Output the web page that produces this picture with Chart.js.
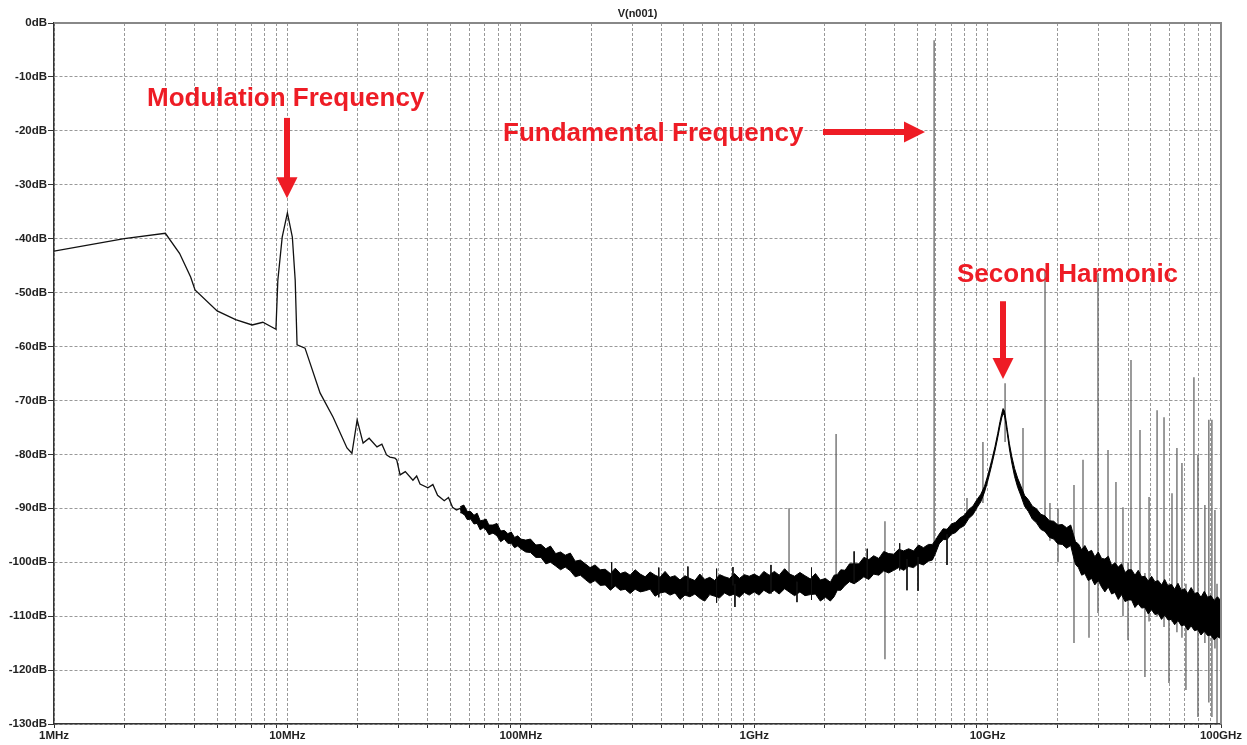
<!DOCTYPE html>
<html>
<head>
<meta charset="utf-8">
<script src="https://cdn.jsdelivr.net/npm/chart.js@4.4.0/dist/chart.umd.min.js"></script>
<style>
html, body { margin: 0; padding: 0; background: #fff; }
#wrap { width: 1247px; height: 745px; }
</style>
</head>
<body>
<div id="wrap"><canvas id="spectrum"></canvas></div>
<script>
// axes
const decades = [1, 10, 100, 1000, 10000, 100000];            // MHz
const decadeLabels = ['1MHz', '10MHz', '100MHz', '1GHz', '10GHz', '100GHz'];
const yMin = -130, yMax = 0, yStep = 10;

// low frequency part of the trace (MHz / dB)
const curveFreq = [1, 2, 3, 3.45, 3.85, 4.02, 5.0, 6.0, 7.06, 7.85, 8.93, 9.1, 9.5, 10.0, 10.5, 10.8, 11.0, 11.9,
    13.8, 15.7, 18.0, 18.9, 19.9, 21.1, 22.4, 24.2, 25.4, 26.6, 27.5, 28.9, 29.4, 30.4, 32, 34.5, 35.8, 37, 40, 42,
    44, 47, 49, 51, 53, 55, 57];
const curveDb = [-42.3, -40.0, -39.0, -42.7, -47.1, -49.5, -53.4, -55.0, -56.0, -55.5, -56.8, -47.7, -39.7, -35.2,
    -39.7, -47.7, -59.7, -60.3, -68.6, -73.1, -78.8, -79.8, -73.6, -77.9, -77.0, -78.6, -78.1, -80.1, -80.5, -80.7,
    -81.0, -83.8, -83.2, -84.8, -84.0, -85.5, -86.2, -85.6, -87.6, -88.6, -88.0, -89.8, -90.3, -90.0, -91.2];

// noise band, upper and lower envelope (MHz / dB)
const bandFreq = [55, 57, 59, 61, 63, 65, 67, 69, 71, 73, 76, 79, 82, 85, 88, 91, 94, 97, 100,
    105, 110, 116, 122, 128, 134, 141, 148, 155, 163, 171, 180, 189, 198, 208, 219, 230, 242, 254, 267, 280, 294,
    309, 325, 341, 358, 376, 395, 415, 436, 458, 481, 505, 530, 557, 585, 614, 645, 677, 711, 747, 784, 823, 864,
    907, 952,
    1000, 1050, 1100, 1160, 1220, 1280, 1350, 1420, 1490, 1570, 1650, 1740, 1830, 1920, 2020, 2120, 2200, 2270,
    2350, 2450, 2560, 2680, 2810, 2950, 3100, 3250, 3420, 3590, 3770, 3960, 4160, 4370, 4590, 4820, 5060, 5310,
    5580, 5800,
    6000, 6200, 6450, 6700, 7000, 7300, 7600, 7950, 8300, 8650, 9000, 9350, 9700, 10050, 10400, 10750, 11050,
    11300, 11500, 11650, 11800, 11950, 12150, 12400, 12700, 13050, 13450, 13900, 14400, 14950, 15550, 16200,
    16900, 17600, 18400, 19200, 20000, 20900, 21800, 22700, 23300, 23800,
    24500, 25300, 26100, 27000, 27900, 28800, 29800, 30800, 31800, 32900, 34000, 35100, 36300, 37500, 38800,
    40100, 41400, 42800, 44200, 45700, 47200, 48800, 50400, 52100, 53800, 55600, 57400, 59300, 61300, 63300,
    65400, 67600, 69800, 72100, 74500, 77000, 79500, 82100, 84800, 87600, 90500, 93500, 96600, 100000];
const bandHi = [-89.7, -89.4, -90.6, -90.6, -91.3, -90.9, -92.3, -92.2, -92.0, -93.1, -93.1, -92.8, -94.2, -94.1,
    -94.7, -94.4, -95.4, -95.1, -95.7,
    -95.9, -95.7, -96.8, -96.7, -97.5, -97.0, -98.4, -98.1, -98.7, -98.3, -99.8, -99.6, -100.3, -101.0, -100.5,
    -101.4, -101.3, -102.1, -101.1, -102.1, -101.8, -102.4, -101.4, -102.2, -102.7, -101.8, -102.4, -102.8, -101.7,
    -102.8, -102.5, -103.3, -102.5, -103.0, -103.4, -102.2, -103.2, -102.8, -103.4, -102.3, -102.7, -103.0, -102.1,
    -103.0, -102.3, -102.6,
    -102.2, -102.7, -101.7, -102.4, -101.7, -102.4, -101.2, -102.2, -102.6, -101.9, -102.5, -103.1, -102.1, -103.3,
    -103.0, -103.7, -102.4, -102.3, -101.4, -101.5, -100.3, -100.3, -100.3, -99.1, -99.5, -98.8, -99.3, -98.0,
    -98.4, -98.5, -97.6, -97.9, -97.5, -97.9, -96.8, -97.3, -96.7, -96.7,
    -95.8, -94.8, -93.8, -93.9, -92.9, -92.6, -91.8, -91.3, -90.2, -89.6, -88.4, -87.4, -85.9, -83.7, -81.2, -78.6,
    -76.1, -73.9, -72.4, -71.5, -71.9, -73.2, -75.4, -78.0, -80.4, -82.6, -84.4, -85.9, -87.6, -88.4, -89.6, -90.1,
    -91.1, -91.4, -92.3, -92.4, -93.1, -93.0, -93.6, -93.1, -94.8, -96.2,
    -96.6, -97.7, -96.9, -98.1, -97.8, -99.0, -98.1, -99.3, -99.4, -98.9, -100.6, -100.1, -100.9, -100.3, -101.9,
    -101.4, -101.4, -102.4, -101.5, -102.7, -102.6, -103.5, -102.6, -103.6, -103.4, -104.2, -103.2, -104.4, -104.1,
    -105.0, -103.9, -105.2, -104.9, -105.8, -104.7, -105.8, -105.6, -106.5, -105.4, -106.5, -106.2, -107.1, -106.4,
    -107.2];
const bandLo = [-90.8, -91.0, -92.1, -92.0, -92.9, -92.8, -94.0, -93.6, -94.0, -94.9, -94.6, -95.1, -96.2, -95.7,
    -96.5, -96.5, -97.3, -97.0, -97.5,
    -98.1, -98.2, -99.1, -99.1, -100.3, -100.0, -100.7, -101.4, -100.9, -101.6, -102.7, -102.4, -103.2, -103.9,
    -103.4, -104.3, -104.2, -105.2, -104.4, -105.2, -105.0, -105.8, -105.0, -105.5, -105.3, -105.0, -106.3, -105.7,
    -105.5, -106.1, -105.7, -106.9, -106.1, -106.4, -105.9, -106.7, -107.2, -106.0, -106.3, -106.6, -105.7, -106.2,
    -105.9, -106.5, -105.6, -106.1,
    -105.5, -106.1, -105.2, -105.8, -105.2, -105.9, -104.9, -105.6, -106.2, -105.5, -106.2, -106.0, -105.9, -107.2,
    -106.5, -107.2, -106.4, -105.2, -105.2, -104.3, -103.6, -104.0, -103.4, -102.7, -103.2, -102.2, -102.4, -101.6,
    -102.0, -101.5, -101.0, -101.5, -100.8, -101.0, -100.2, -100.5, -99.8, -99.6,
    -98.2, -96.6, -95.8, -95.8, -94.8, -94.5, -93.7, -93.2, -91.9, -91.2, -89.9, -88.8, -87.0, -84.7, -82.1, -79.4,
    -76.9, -74.7, -73.2, -72.4, -72.8, -74.0, -76.2, -79.0, -81.6, -84.1, -86.1, -87.7, -89.6, -90.6, -92.0, -92.7,
    -93.9, -94.3, -95.4, -95.7, -96.6, -96.7, -97.4, -96.9, -98.9, -100.4,
    -101.0, -102.4, -102.1, -103.4, -103.0, -104.2, -103.4, -104.6, -105.5, -104.6, -105.9, -105.6, -106.9, -106.0,
    -107.3, -107.0, -107.0, -108.4, -107.7, -108.5, -108.4, -109.6, -108.8, -109.7, -109.5, -110.6, -109.8, -110.7,
    -110.6, -111.6, -110.8, -111.8, -111.6, -112.6, -111.8, -112.7, -112.5, -113.5, -112.8, -113.6, -113.5, -114.4,
    -113.8, -114.2];

// short noise ticks sticking out of the band (MHz / top dB / bottom dB)
const tickFreq = [245, 390, 520, 690, 811, 827, 1180, 1525, 1760, 2680, 3050, 4200, 4515, 5035, 6700];
const tickTop = [-100.0, -101.0, -100.8, -101.2, -100.9, -104.0, -100.5, -103.6, -101.0, -98.0, -97.5, -96.5,
    -99.4, -99.0, -94.8];
const tickBottom = [-104.5, -106.5, -105.5, -107.5, -104.3, -108.3, -105.8, -107.4, -107.0, -104.0, -103.0,
    -101.5, -105.2, -105.3, -100.5];

// discrete spectral lines (MHz / top dB / bottom dB)
const spikeFreq = [1410, 2243, 3633, 5900, 8160, 9550, 11880, 14180, 17620, 18500, 20030, 23450, 25630, 27190,
    29710, 32800, 35480, 38020, 39960, 41150, 44970, 47220, 49170, 53220, 57000, 59840, 61660, 64740, 68030, 70760,
    76560, 79650, 85310, 88710, 91420, 94190, 96150];
const spikeTop = [-90.0, -76.2, -92.4, -3.2, -88.1, -77.7, -66.8, -75.1, -46.0, -89.0, -90.0, -85.7, -81.0, -98.0,
    -46.4, -79.2, -85.1, -89.8, -100.0, -62.5, -75.5, -102.0, -87.9, -71.8, -73.1, -104.0, -87.2, -78.8, -81.6,
    -104.0, -65.7, -80.1, -89.4, -73.6, -73.6, -90.3, -104.0];
const spikeBottom = [-103.3, -104.5, -118.0, -97.5, -92.0, -89.0, -77.7, -88.0, -93.0, -96.0, -100.0, -115.0,
    -101.0, -114.0, -109.4, -104.0, -105.5, -110.0, -114.4, -106.0, -108.0, -121.3, -111.0, -110.0, -112.0, -122.4,
    -111.0, -113.0, -114.0, -123.7, -112.0, -128.7, -115.0, -126.0, -128.7, -116.0, -129.8];

// annotations (text left edge / baseline, arrows tail -> tip), in MHz / dB
const noteText = ['Modulation Frequency', 'Fundamental Frequency', 'Second Harmonic'];
const noteFreq = [2.503, 83.9, 7396];
const noteDb = [-15.4, -21.9, -48.0];
const arrowFrom = [[9.96, -17.6], [1971, -20.2], [11640, -51.6]];
const arrowTo = [[9.96, -32.5], [5393, -20.2], [11640, -66.0]];

const red = '#ee1c25';
const labelFont = { family: '"Liberation Sans", Arial, sans-serif', size: 11.5, weight: 'bold' };

const xGridValues = [];
for (let i = 0; i < decades.length - 1; i++) {
    for (let k = 1; k < 10; k++) xGridValues.push(decades[i] * k);
}
xGridValues.push(decades[decades.length - 1]);

function verticalSegments(freq, top, bottom) {
    const pts = [];
    freq.forEach(function (f, i) {
        pts.push({ x: f, y: top[i] }, { x: f, y: bottom[i] }, { x: f, y: null });
    });
    return pts;
}

const annotationPlugin = {
    id: 'ltspiceDecor',
    afterDatasetsDraw(chart) {
        const ctx = chart.ctx, a = chart.chartArea;
        const xs = chart.scales.x, ys = chart.scales.y;
        ctx.save();
        // frame top / right
        ctx.strokeStyle = '#888';
        ctx.lineWidth = 2;
        ctx.beginPath();
        ctx.moveTo(a.left, a.top);
        ctx.lineTo(a.right, a.top);
        ctx.lineTo(a.right, a.bottom);
        ctx.stroke();

        // title
        ctx.fillStyle = '#222';
        ctx.font = 'bold 11px "Liberation Sans", Arial, sans-serif';
        ctx.textAlign = 'center';
        ctx.textBaseline = 'alphabetic';
        ctx.fillText('V(n001)', (a.left + a.right) / 2, a.top - 6);

        // red notes
        ctx.fillStyle = red;
        ctx.strokeStyle = red;
        ctx.font = 'bold 26px "Liberation Sans", Arial, sans-serif';
        ctx.textAlign = 'left';
        noteText.forEach(function (t, i) {
            ctx.fillText(t, xs.getPixelForValue(noteFreq[i]), ys.getPixelForValue(noteDb[i]));
        });
        arrowFrom.forEach(function (p, i) {
            const x1 = xs.getPixelForValue(p[0]), y1 = ys.getPixelForValue(p[1]);
            const x2 = xs.getPixelForValue(arrowTo[i][0]), y2 = ys.getPixelForValue(arrowTo[i][1]);
            const ang = Math.atan2(y2 - y1, x2 - x1);
            const head = 21, half = 10.5;
            const bx = x2 - head * Math.cos(ang), by = y2 - head * Math.sin(ang);
            ctx.lineWidth = 6;
            ctx.lineCap = 'butt';
            ctx.beginPath();
            ctx.moveTo(x1, y1);
            ctx.lineTo(bx + Math.cos(ang), by + Math.sin(ang));
            ctx.stroke();
            ctx.beginPath();
            ctx.moveTo(x2, y2);
            ctx.lineTo(bx + half * Math.sin(ang), by - half * Math.cos(ang));
            ctx.lineTo(bx - half * Math.sin(ang), by + half * Math.cos(ang));
            ctx.closePath();
            ctx.fill();
        });
        ctx.restore();
    }
};

new Chart(document.getElementById('spectrum').getContext('2d'), {
    type: 'line',
    data: {
        datasets: [
            {
                label: 'noise ticks',
                data: verticalSegments(tickFreq, tickTop, tickBottom),
                borderColor: '#111',
                borderWidth: 1,
                fill: false,
                pointRadius: 0,
                spanGaps: false,
                tension: 0
            },
            {
                label: 'band upper',
                data: bandFreq.map((f, i) => ({ x: f, y: bandHi[i] })),
                borderColor: '#000',
                backgroundColor: '#000',
                borderWidth: 1,
                fill: '+1',
                pointRadius: 0,
                tension: 0
            },
            {
                label: 'band lower',
                data: bandFreq.map((f, i) => ({ x: f, y: bandLo[i] })),
                borderColor: '#000',
                borderWidth: 1,
                fill: false,
                pointRadius: 0,
                tension: 0
            },
            {
                label: 'V(n001)',
                data: curveFreq.map((f, i) => ({ x: f, y: curveDb[i] })),
                borderColor: '#111',
                borderWidth: 1.3,
                fill: false,
                pointRadius: 0,
                tension: 0
            },
            {
                label: 'lines',
                data: verticalSegments(spikeFreq, spikeTop, spikeBottom),
                borderColor: '#666',
                borderWidth: 1.3,
                fill: false,
                pointRadius: 0,
                spanGaps: false,
                tension: 0
            }
        ]
    },
    options: {
        responsive: true,
        maintainAspectRatio: false,
        animation: false,
        layout: { padding: { top: 23, right: 26, bottom: 0, left: 0 } },
        plugins: { legend: { display: false }, tooltip: { enabled: false }, title: { display: false } },
        scales: {
            x: {
                type: 'logarithmic',
                min: decades[0],
                max: decades[decades.length - 1],
                afterBuildTicks: function (scale) {
                    scale.ticks = xGridValues.map(v => ({ value: v }));
                },
                afterFit: function (scale) {
                    scale.height = 21;
                    scale.paddingLeft = 0;
                    scale.paddingRight = 0;
                },
                ticks: {
                    autoSkip: false,
                    maxRotation: 0,
                    padding: 1,
                    color: '#222',
                    font: labelFont,
                    callback: function (value) {
                        const i = decades.indexOf(value);
                        return i >= 0 ? decadeLabels[i] : '';
                    }
                },
                grid: { color: '#999', lineWidth: 1, tickLength: 4, tickColor: '#333', tickBorderDash: [] },
                border: { color: '#333', width: 1.5, dash: [3, 2] }
            },
            y: {
                min: yMin,
                max: yMax,
                afterFit: function (scale) {
                    scale.width = 54;
                    scale.paddingTop = 0;
                    scale.paddingBottom = 0;
                },
                ticks: {
                    stepSize: yStep,
                    padding: 1,
                    color: '#222',
                    font: labelFont,
                    callback: v => v + 'dB'
                },
                grid: { color: '#999', lineWidth: 1, tickLength: 6, tickColor: '#333', tickBorderDash: [] },
                border: { color: '#333', width: 1.5, dash: [3, 2] }
            }
        }
    },
    plugins: [annotationPlugin]
});
</script>
</body>
</html>
